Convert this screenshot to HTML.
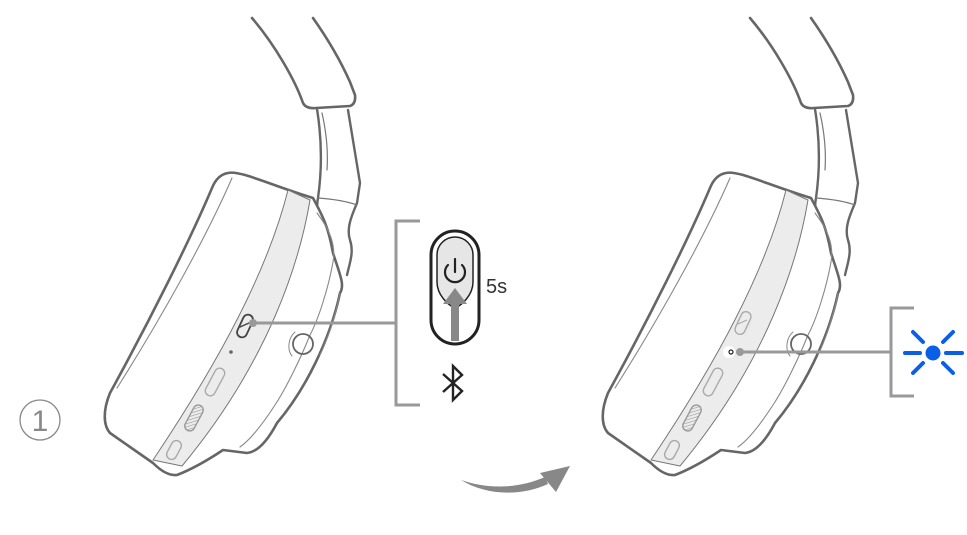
<!DOCTYPE html>
<html><head><style>html,body{margin:0;padding:0;background:#fff}svg{display:block}</style></head>
<body>
<svg width="967" height="535" viewBox="0 0 967 535" xmlns="http://www.w3.org/2000/svg">
<defs>
<pattern id="h" width="3" height="3" patternUnits="userSpaceOnUse" patternTransform="rotate(45)"><line x1="0" y1="0" x2="0" y2="3" stroke="#999" stroke-width="1.2"/></pattern>
<g id="hp" fill="none" stroke-linejoin="round" stroke-linecap="round">
<path d="M252,18 C275,45 295,80 303,103 Q306,109 316,108 L350,106 Q356,104 355,95 L350,82 C338,55 325,35 313,18" stroke="#666" stroke-width="2.6" fill="#fff"/>
<path d="M317,109 C322,140 322,170 318,198 C316,208 318,215 321,222 L345,300 C352,270 350,255 350,248 C346,238 346,230 352,220 L358,203 L360,183 L348,110 Z" fill="#fff" stroke="none"/>
<path d="M317,109 C322,140 322,170 318,198 C316,208 318,215 321,222" stroke="#666" stroke-width="2.4"/>
<path d="M348,110 L360,183 L357,203 C352,215 346,228 350,240 C354,252 350,262 347,275" stroke="#666" stroke-width="2.4"/>
<path d="M322,113 C327,135 328,155 327,170" stroke="#777" stroke-width="1.2"/>
<path d="M318,198 C332,199 346,201 357,205" stroke="#777" stroke-width="1.2"/>
<path d="M228,173 C240,170 270,185 313,198 C322,215 328,225 333,253 C340,275 345,285 340,293 C330,340 305,390 277,423 C268,440 258,452 247,453 L223,450 C205,462 190,470 177,475 C168,476 160,470 153,463 L110,433 C103,425 103,410 110,393 C150,320 190,240 212,188 C216,178 222,174 228,173 Z" fill="#fff" stroke="#666" stroke-width="2.6"/>
<path d="M288,190 L310,200 C300,260 270,360 182,466 L153,460 C220,360 268,270 288,190 Z" fill="#ececec" stroke="#777" stroke-width="1"/>
<path d="M232,178 C205,240 160,320 117,388" stroke="#888" stroke-width="1.1"/>
<path d="M317,213 C330,230 336,245 333,262 C328,290 318,320 310,335 C300,360 285,390 275,405 C262,425 250,440 240,447" stroke="#888" stroke-width="1.1"/>
<path d="M340,293 C335,320 325,345 320,355" stroke="#888" stroke-width="1"/>
<rect x="-5" y="-12" width="10" height="24" rx="5" transform="translate(245,326) rotate(25)" stroke="#444" stroke-width="1.8"/>
<line x1="240" y1="327" x2="249" y2="323" stroke="#444" stroke-width="1.5"/>
<circle cx="231" cy="352" r="1.8" fill="#666" stroke="none"/>
<rect x="-5" y="-15" width="10" height="30" rx="5" transform="translate(215,382) rotate(28)" stroke="#aaa" stroke-width="1.4"/>
<rect x="-5" y="-14" width="10" height="28" rx="5" transform="translate(194,418) rotate(28)" fill="url(#h)" stroke="#999" stroke-width="1.4"/>
<rect x="-5" y="-10" width="10" height="20" rx="5" transform="translate(174,450) rotate(28)" stroke="#aaa" stroke-width="1.4"/>
<circle cx="303" cy="344" r="10" stroke="#666" stroke-width="1.8"/>
<path d="M295,332 C288,338 287,350 292,356" stroke="#888" stroke-width="1"/>
</g>
</defs>
<use href="#hp"/>
<use href="#hp" transform="translate(498,0)"/>
<circle cx="253" cy="323" r="4" fill="#999"/>
<line x1="253" y1="323" x2="395" y2="323" stroke="#999" stroke-width="3"/>
<path d="M420,221 L396,221 L396,405 L420,405" fill="none" stroke="#999" stroke-width="3"/>
<rect x="431" y="231" width="48" height="113" rx="24" fill="#fff" stroke="#222" stroke-width="3"/>
<path d="M437,255 A18,18 0 0 1 473,255 L473,282 C473,295 462,305 455,308 C448,305 437,295 437,282 Z" fill="#e6e6e6" stroke="#222" stroke-width="1.5"/>
<path d="M448,265 A10,10 0 1 0 462,265" fill="none" stroke="#222" stroke-width="2.2" stroke-linecap="round"/>
<line x1="455" y1="259" x2="455" y2="272" stroke="#222" stroke-width="2.2" stroke-linecap="round"/>
<rect x="451" y="302" width="8" height="39" fill="#888"/>
<path d="M443,304 L455,288 L467,304 Z" fill="#888"/>
<text x="486" y="293" font-family="Liberation Sans, sans-serif" font-size="20" fill="#333">5s</text>
<path d="M443,374 L462,391 L453,400 L453,366 L462,375 L443,392" fill="none" stroke="#222" stroke-width="2.4" stroke-linejoin="miter"/>
<circle cx="40" cy="420" r="20" fill="none" stroke="#888" stroke-width="1.3"/>
<text x="40" y="431" text-anchor="middle" font-family="Liberation Sans, sans-serif" font-size="30" fill="#888">1</text>
<path d="M461,480 C485,495 520,497 548,484 L545,477 C520,488 490,490 461,480 Z" fill="#888"/>
<path d="M540,473 L570,466 L556,492 Z" fill="#888"/>
<rect x="-6" y="-13" width="12" height="26" fill="#ececec" transform="translate(743,326) rotate(25)"/>
<rect x="-5" y="-12" width="10" height="24" rx="5" transform="translate(743,323) rotate(25)" fill="none" stroke="#aaa" stroke-width="1.4"/>
<line x1="738" y1="324" x2="747" y2="320" stroke="#aaa" stroke-width="1.2"/>
<circle cx="729" cy="352" r="6" fill="#fff"/>
<circle cx="731" cy="352" r="2" fill="none" stroke="#222" stroke-width="1.2"/>
<circle cx="740" cy="352" r="4" fill="#999"/>
<line x1="740" y1="352" x2="890" y2="352" stroke="#999" stroke-width="3"/>
<path d="M914,308 L891,308 L891,396 L914,396" fill="none" stroke="#999" stroke-width="3"/>
<g stroke="#0a5ee8" stroke-width="4" stroke-linecap="round">
<line x1="905" y1="353" x2="920" y2="353"/><line x1="946" y1="353" x2="962" y2="353"/>
<line x1="913" y1="332" x2="923" y2="342"/><line x1="953" y1="332" x2="943" y2="342"/>
<line x1="913" y1="373" x2="923" y2="363"/><line x1="953" y1="373" x2="943" y2="363"/>
</g>
<circle cx="933" cy="353" r="7.5" fill="#0a5ee8"/>
</svg>
</body></html>
